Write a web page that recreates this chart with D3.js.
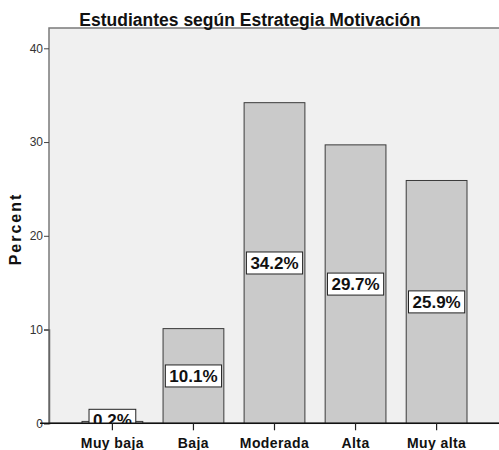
<!DOCTYPE html>
<html><head><meta charset="utf-8">
<script src="https://cdn.jsdelivr.net/npm/d3@7"></script>
<style>body{margin:0;background:#fff}svg{display:block}</style>
</head><body>
<script>
const categories = ["Muy baja","Baja","Moderada","Alta","Muy alta"];
const percents = [0.2, 10.1, 34.2, 29.7, 25.9];
const labels = ["0.2%","10.1%","34.2%","29.7%","25.9%"];
const yTicks = [0,10,20,30,40];
const title = "Estudiantes según Estrategia Motivación";
const yLabel = "Percent";

(function(){
const W = 499, H = 450;
const pLeft = 49, pTop = 28, pBottom = 423.3, pRight = 510;
const svg = d3.select("body").append("svg").attr("width", W).attr("height", H);
const font = "'Liberation Sans', Arial, sans-serif";

const y = d3.scaleLinear().domain([0, 10]).range([pBottom, pBottom - 93.75]);
const x = d3.scaleBand().domain(categories).range([82, 467]).paddingInner(0.25).paddingOuter(0);

svg.append("defs").append("clipPath").attr("id","plot")
  .append("rect").attr("x", pLeft).attr("y", pTop).attr("width", pRight - pLeft).attr("height", pBottom - pTop);

svg.append("rect").attr("x", pLeft).attr("y", pTop).attr("width", pRight - pLeft).attr("height", pBottom - pTop)
  .attr("fill", "#f0f0f0").attr("stroke", "#7a7a7a").attr("stroke-width", 1.5);

const g = svg.append("g").attr("clip-path", "url(#plot)");
g.selectAll("rect.bar").data(percents).join("rect").attr("class","bar")
  .attr("x", (d,i) => x(categories[i]))
  .attr("width", x.bandwidth())
  .attr("y", d => y(d))
  .attr("height", d => pBottom - y(d))
  .attr("fill", "#cacaca").attr("stroke", "#3a3a3a").attr("stroke-width", 1);

const lab = g.selectAll("g.lab").data(percents).join("g").attr("class","lab")
  .attr("transform", (d,i) => `translate(${x(categories[i]) + x.bandwidth()/2},${Math.min(y(d/2), pBottom - 3)})`);
lab.append("text").text((d,i) => labels[i])
  .attr("text-anchor","middle").attr("dy","0.36em")
  .attr("font-family", font).attr("font-weight","bold").attr("font-size", 17).attr("fill","#111")
  .each(function(){
    const b = this.getBBox();
    d3.select(this.parentNode).insert("rect","text")
      .attr("x", b.x - 4).attr("y", -11).attr("width", b.width + 8).attr("height", 22)
      .attr("fill","#fff").attr("stroke","#222").attr("stroke-width",1);
  });

const yAxis = svg.append("g").attr("transform", `translate(${pLeft},0)`)
  .call(d3.axisLeft(y).tickValues(yTicks).tickSize(5).tickPadding(1).tickFormat(d3.format("d")));
yAxis.select(".domain").attr("stroke","#666").attr("stroke-width",1.5);
yAxis.selectAll(".tick line").attr("stroke","#444");
yAxis.selectAll("text").attr("font-family", font).attr("font-size", 12).attr("fill","#333");

svg.append("line").attr("x1", 40).attr("x2", W).attr("y1", pBottom).attr("y2", pBottom)
  .attr("stroke","#111").attr("stroke-width",1.5);
const xAxis = svg.append("g").attr("transform", `translate(0,${pBottom})`)
  .call(d3.axisBottom(x).tickSize(7).tickPadding(8));
xAxis.select(".domain").remove();
xAxis.selectAll(".tick line").attr("stroke","#222").attr("stroke-width",1.2);
xAxis.selectAll("text").attr("font-family", font).attr("font-weight","bold")
  .attr("font-size", 14).attr("letter-spacing", "0.4px").attr("fill","#111");

svg.append("text").text(title).attr("x", 250).attr("y", 26).attr("text-anchor","middle")
  .attr("font-family", font).attr("font-weight","bold").attr("font-size", 17.5).attr("fill","#111");

svg.append("text").text(yLabel).attr("transform", "translate(21,229) rotate(-90)")
  .attr("text-anchor","middle").attr("font-family", font).attr("font-weight","bold")
  .attr("font-size", 16).attr("letter-spacing","2px").attr("fill","#111");
})();
</script>
</body></html>
